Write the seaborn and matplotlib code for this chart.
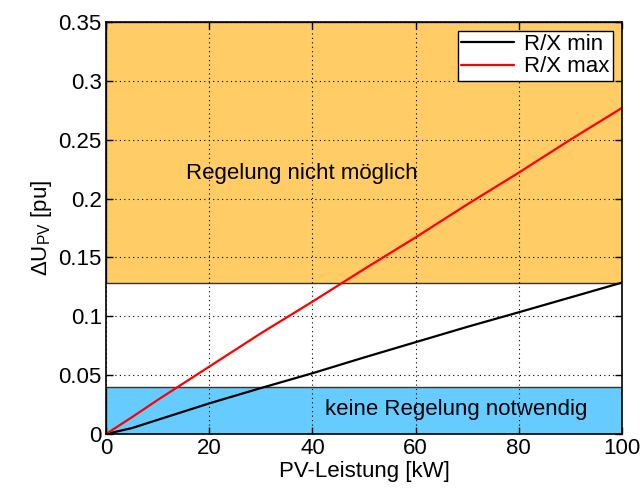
import matplotlib
matplotlib.use("Agg")
import matplotlib.pyplot as plt
import seaborn as sns
import pandas as pd

# PV power [kW] and voltage rise [pu] for the two R/X ratios
leistung = [0, 5, 10, 20, 30, 40, 50, 60, 70, 80, 90, 100]
du_rx_min = [0, 0.005, 0.012, 0.026, 0.039, 0.0516, 0.065, 0.078, 0.091, 0.1034, 0.116, 0.1286]
du_rx_max = [0, 0.0142, 0.0289, 0.0572, 0.0855, 0.1124, 0.140, 0.167, 0.195, 0.222, 0.250, 0.277]
serien = ["R/X min", "R/X max"]

# voltage band limits [pu]
grenze_unten = 0.04
grenze_oben = 0.128
y_max = 0.35

x_ticks = [0, 20, 40, 60, 80, 100]
y_ticks = [0, 0.05, 0.1, 0.15, 0.2, 0.25, 0.3, 0.35]
y_ticklabels = ["0", "0.05", "0.1", "0.15", "0.2", "0.25", "0.3", "0.35"]

df = pd.DataFrame({
    "P": leistung * 2,
    "dU": du_rx_min + du_rx_max,
    "Kurve": [serien[0]] * len(leistung) + [serien[1]] * len(leistung),
})

sns.set_style("ticks")
plt.rcParams["font.family"] = ["Liberation Sans", "DejaVu Sans"]
plt.rcParams["mathtext.fontset"] = "custom"
plt.rcParams["mathtext.rm"] = "Liberation Sans"
plt.rcParams["mathtext.it"] = "Liberation Sans"
plt.rcParams["text.color"] = "black"
plt.rcParams["axes.labelcolor"] = "black"
plt.rcParams["xtick.color"] = "black"
plt.rcParams["ytick.color"] = "black"

FS = 16

fig = plt.figure(figsize=(6.43, 4.91), dpi=100)
ax = fig.add_axes([0.1649, 0.1161, 0.8024, 0.8391])

ax.axhspan(grenze_oben, y_max, facecolor="#FFCC66", edgecolor="#333333", lw=1.0, zorder=0)
ax.axhspan(0, grenze_unten, facecolor="#66CCFF", edgecolor="#333333", lw=1.0, zorder=0)

sns.lineplot(data=df, x="P", y="dU", hue="Kurve", palette=["black", "red"],
             linewidth=1.6, ax=ax, zorder=3)

ax.set_xlim(0, 100)
ax.set_ylim(0, y_max)
ax.set_xticks(x_ticks)
ax.set_yticks(y_ticks)
ax.set_yticklabels(y_ticklabels)
ax.grid(True, linestyle=(0, (1, 3)), color="black", linewidth=0.8, zorder=1)
ax.set_axisbelow(False)
ax.tick_params(direction="in", top=True, right=True, length=5, width=1,
               labelsize=FS, colors="black", labelcolor="black", pad=3)
for s in ax.spines.values():
    s.set_linewidth(1.2)
    s.set_color("black")
    s.set_zorder(5)

ax.set_xlabel("PV-Leistung [kW]", fontsize=FS, labelpad=1, color="black")
ax.set_ylabel(r"$\Delta$U$_{\mathregular{PV}}$ [pu]", fontsize=FS, labelpad=3, color="black")

ax.text(37.9, 0.2217, "Regelung nicht möglich", fontsize=FS, ha="center", va="center",
        color="black", zorder=4)
ax.text(67.8, 0.0204, "keine Regelung notwendig", fontsize=FS, ha="center", va="center",
        color="black", zorder=4)

leg = ax.legend(loc="upper right", fontsize=FS, frameon=True, fancybox=False,
                edgecolor="black", framealpha=1, borderaxespad=0.4,
                handlelength=2.4, handletextpad=0.45, labelspacing=0.05, borderpad=0.15,
                labelcolor="black")
leg.get_frame().set_linewidth(1.0)
leg.set_zorder(6)

fig.savefig("out.png", dpi=100)
